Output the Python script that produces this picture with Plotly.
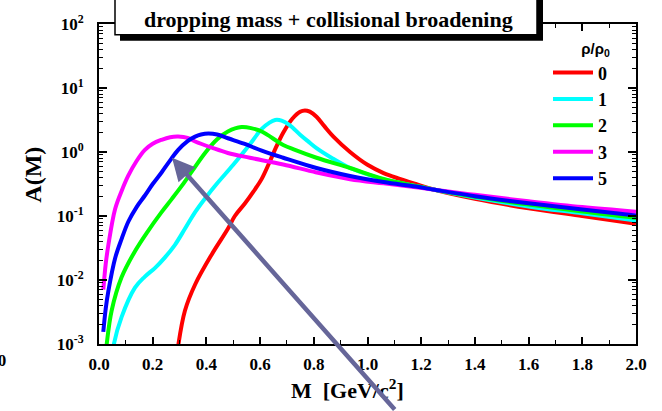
import math
import plotly.graph_objects as go

# Spectral function A(M) of the rho meson for several densities rho/rho0
# (dropping mass + collisional broadening)
density_labels = ["0", "1", "2", "3", "5"]
line_colors = ["#ff0000", "#00ffff", "#00ff00", "#ff00ff", "#0000ff"]

mass_rho0 = [0.288, 0.296, 0.32, 0.358, 0.42, 0.48, 0.506, 0.544, 0.575, 0.606, 0.635, 0.66,
             0.686, 0.72, 0.749, 0.767, 0.785, 0.81, 0.84, 0.873, 0.935, 1.0, 1.06, 1.12, 1.18,
             1.25, 1.4, 1.6, 1.8, 2.0]
a_rho0 = [0.000501, 0.001, 0.00331, 0.00851, 0.0251, 0.0631, 0.1, 0.158, 0.240, 0.380, 0.692,
          1.20, 2.0, 3.31, 4.27, 4.47, 4.27, 3.55, 2.51, 1.74, 1.0, 0.631, 0.468, 0.380, 0.316,
          0.257, 0.186, 0.132, 0.1, 0.0759]

mass_rho1 = [0.05, 0.056, 0.084, 0.134, 0.17, 0.209, 0.245, 0.283, 0.32, 0.358, 0.4, 0.438, 0.5,
             0.562, 0.606, 0.635, 0.656, 0.68, 0.71, 0.749, 0.78, 0.81, 0.87, 0.935, 1.0, 1.06,
             1.18, 1.25, 1.4, 1.6, 1.8, 2.0]
a_rho1 = [0.000631, 0.00102, 0.00263, 0.00759, 0.0112, 0.0155, 0.0224, 0.0355, 0.0631, 0.115,
          0.200, 0.316, 0.631, 1.32, 2.29, 2.88, 3.16, 3.09, 2.63, 1.86, 1.45, 1.15, 0.794,
          0.562, 0.447, 0.372, 0.295, 0.257, 0.195, 0.141, 0.110, 0.0851]

mass_rho2 = [0.022, 0.029, 0.047, 0.084, 0.134, 0.18, 0.233, 0.27, 0.308, 0.35, 0.395, 0.44,
             0.48, 0.531, 0.57, 0.606, 0.686, 0.73, 0.81, 0.935, 1.06, 1.18, 1.25, 1.4, 1.6,
             1.8, 2.0]
a_rho2 = [0.000501, 0.00102, 0.00331, 0.011, 0.0282, 0.0562, 0.115, 0.182, 0.295, 0.525, 0.966,
          1.58, 2.09, 2.45, 2.34, 2.09, 1.29, 1.08, 0.813, 0.562, 0.380, 0.295, 0.257, 0.2,
          0.151, 0.117, 0.0933]

mass_rho3 = [0.016, 0.025, 0.035, 0.06, 0.085, 0.109, 0.14, 0.171, 0.2, 0.233, 0.265, 0.295,
             0.33, 0.358, 0.42, 0.48, 0.562, 0.686, 0.81, 0.935, 1.06, 1.18, 1.25, 1.4, 1.6,
             1.8, 2.0]
a_rho3 = [0.00708, 0.0178, 0.0355, 0.129, 0.251, 0.427, 0.724, 1.08, 1.35, 1.55, 1.70, 1.74,
          1.66, 1.46, 1.17, 0.966, 0.813, 0.638, 0.479, 0.376, 0.324, 0.282, 0.257, 0.214,
          0.170, 0.138, 0.117]

mass_rho5 = [0.016, 0.025, 0.035, 0.06, 0.085, 0.109, 0.14, 0.171, 0.2, 0.233, 0.265, 0.295,
             0.33, 0.358, 0.38, 0.407, 0.44, 0.48, 0.54, 0.606, 0.686, 0.81, 0.935, 1.06, 1.18,
             1.25, 1.4, 1.6, 1.8, 2.0]
a_rho5 = [0.00155, 0.00355, 0.00676, 0.0219, 0.0447, 0.0813, 0.138, 0.209, 0.316, 0.479, 0.741,
          1.08, 1.48, 1.74, 1.88, 1.95, 1.88, 1.64, 1.35, 1.05, 0.813, 0.562, 0.422, 0.339,
          0.288, 0.257, 0.204, 0.158, 0.126, 0.102]

masses = [mass_rho0, mass_rho1, mass_rho2, mass_rho3, mass_rho5]
spectra = [a_rho0, a_rho1, a_rho2, a_rho3, a_rho5]

# arrow tip (M, A) pointing at the rho/rho0 = 5 curve
arrow_tip_mass = 0.272
arrow_tip_a = 0.81

x_tick_values = [0.0, 0.2, 0.4, 0.6, 0.8, 1.0, 1.2, 1.4, 1.6, 1.8, 2.0]
y_exponents = [-3, -2, -1, 0, 1, 2]

SERIF = "Liberation Serif, Times New Roman, serif"
W, H = 662, 411
ML, MR, MT, MB = 99, 26, 19, 67
PW, PH = W - ML - MR, H - MT - MB


def px_x(px):
    return (px - ML) / PW


def px_y(py):
    return (H - MB - py) / PH


fig = go.Figure()
for lab, col, xs, ys in zip(density_labels, line_colors, masses, spectra):
    fig.add_trace(go.Scatter(
        x=xs, y=ys, mode="lines", name=lab,
        line=dict(color=col, width=4, shape="spline", smoothing=1.0),
    ))

y_tick_vals = [10.0 ** e for e in y_exponents]
y_tick_text = ["10<sup>%d</sup>" % e for e in y_exponents]
y_minor_vals = [m * 10.0 ** e for e in y_exponents[:-1] for m in range(2, 10)]

fig.update_xaxes(
    range=[0, 2.0], tickvals=x_tick_values, tickformat=".1f",
    ticks="inside", ticklen=7, tickwidth=1.5, tickcolor="black",
    showline=True, linewidth=2, linecolor="black", mirror="allticks",
    showgrid=False, zeroline=False,
    tickfont=dict(family=SERIF, size=17, color="black", weight="bold"),
    ticklabelstandoff=4,
    minor=dict(dtick=0.1, tick0=0, ticks="inside", ticklen=4, tickwidth=1.2,
               tickcolor="black", showgrid=False),
)
fig.update_yaxes(
    type="log", range=[-3, 2], tickvals=y_tick_vals, ticktext=y_tick_text,
    ticks="inside", ticklen=8, tickwidth=1.5, tickcolor="black",
    showline=True, linewidth=2, linecolor="black", mirror="allticks",
    showgrid=False, zeroline=False,
    tickfont=dict(family=SERIF, size=17, color="black", weight="bold"),
    ticklabelstandoff=10,
    minor=dict(tickvals=y_minor_vals, ticks="inside", ticklen=4, tickwidth=1.2,
               tickcolor="black", showgrid=False),
)

# title box with drop shadow
fig.add_shape(type="rect", xref="paper", yref="paper",
              x0=px_x(120), x1=px_x(543), y0=px_y(36), y1=px_y(-10),
              fillcolor="black", line=dict(width=0), layer="above")
fig.add_shape(type="rect", xref="paper", yref="paper",
              x0=px_x(115), x1=px_x(537), y0=px_y(30), y1=px_y(-10),
              fillcolor="white", line=dict(color="black", width=1.5), layer="above")
fig.add_annotation(text="<b>dropping mass + collisional broadening</b>",
                   xref="paper", yref="paper", x=px_x(328), y=px_y(14),
                   xanchor="center", yanchor="middle", showarrow=False,
                   font=dict(family=SERIF, size=22, color="black"))

# axis titles
fig.add_annotation(text="<b>M  [GeV/c<sup>2</sup>]</b>", xref="paper", yref="paper",
                   x=px_x(347), y=px_y(390), xanchor="center", yanchor="middle",
                   showarrow=False, font=dict(family=SERIF, size=22, color="black"))
fig.add_annotation(text="<b>A(M)</b>", xref="paper", yref="paper", textangle=-90,
                   x=px_x(33), y=px_y(172), xanchor="center", yanchor="middle",
                   showarrow=False, font=dict(family=SERIF, size=24, color="black"))

# neighbouring panel's last tick label, cut by the left edge
fig.add_annotation(text="<b>2.0</b>", xref="paper", yref="paper",
                   x=px_x(8), y=px_y(361), xanchor="right", yanchor="middle",
                   showarrow=False, font=dict(family=SERIF, size=17, color="black"))

# arrow
fig.add_annotation(x=arrow_tip_mass, y=math.log10(arrow_tip_a),
                   xref="x", yref="y", text="", showarrow=True,
                   ax=224, ay=270, axref="pixel", ayref="pixel",
                   arrowhead=2, arrowsize=1.0, arrowwidth=4.5, arrowcolor="#666699",
                   standoff=0)

fig.update_layout(
    width=W, height=H,
    margin=dict(l=ML, r=MR, t=MT, b=MB, pad=0),
    paper_bgcolor="white", plot_bgcolor="white",
    showlegend=True,
    legend=dict(
        x=px_x(548), y=px_y(30), xanchor="left", yanchor="top",
        bgcolor="rgba(0,0,0,0)", borderwidth=0,
        font=dict(family=SERIF, size=18, color="black", weight="bold"),
        title=dict(text="ρ/ρ<sub>0</sub>", side="top right",
                   font=dict(family="Liberation Sans, Arial, sans-serif", size=15, color="black")),
        itemwidth=40, tracegroupgap=0,
    ),
)

fig.write_html("out.html")
